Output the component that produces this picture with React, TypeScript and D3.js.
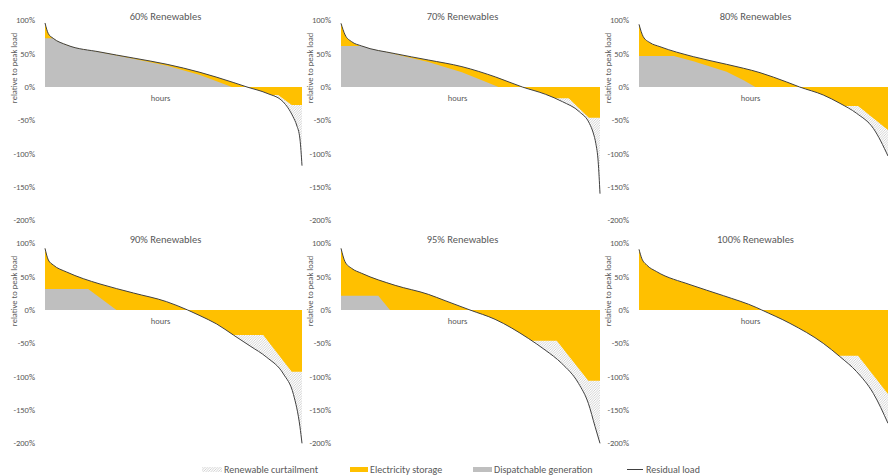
import React from "react";
import * as d3 from "d3";

type Pt = [number, number];

const titles = ["60% Renewables", "70% Renewables", "80% Renewables", "90% Renewables", "95% Renewables", "100% Renewables"];
const tickValues = [100, 50, 0, -50, -100, -150, -200];
const legendLabels = ["Renewable curtailment", "Electricity storage", "Dispatchable generation", "Residual load"];

// x = share of the year's hours (sorted), y = % of peak load
const residual60: Pt[] = [[0, 96], [0.013, 80], [0.032, 73], [0.085, 63], [0.214, 52.5], [0.343, 43.5], [0.475, 34], [0.603, 22], [0.735, 6.5], [0.786, 0], [0.864, -9.5], [0.926, -22], [0.965, -44.5], [0.979, -57], [0.992, -78], [1, -118]];
const dispatch60: Pt[] = [[0, 73], [0.032, 73], [0.085, 62.5], [0.214, 52], [0.343, 42.5], [0.475, 32], [0.603, 18], [0.727, 0]];
const storage60: Pt[] = [[0.78, -12], [0.907, -12], [0.96, -27], [1, -27]];

const residual70: Pt[] = [[0, 95.5], [0.016, 78], [0.041, 68], [0.08, 61.5], [0.209, 50], [0.337, 40.5], [0.467, 30.5], [0.597, 15], [0.7, 0], [0.79, -11], [0.855, -22], [0.92, -37], [0.959, -54.5], [0.974, -69], [0.984, -85], [0.993, -112], [1, -160]];
const dispatch70: Pt[] = [[0, 61.5], [0.08, 61.5], [0.209, 49], [0.337, 37.5], [0.467, 22], [0.544, 10], [0.608, 0]];
const storage70: Pt[] = [[0.69, -17], [0.879, -17], [0.957, -46], [1, -46]];

const residual80: Pt[] = [[0, 94], [0.017, 75.5], [0.044, 66.5], [0.084, 60.5], [0.218, 45.5], [0.352, 34], [0.486, 21.5], [0.593, 7.5], [0.645, 0], [0.74, -12], [0.807, -24.5], [0.874, -39.5], [0.941, -62], [1, -103.5]];
const dispatch80: Pt[] = [[0, 46.5], [0.14, 46.5], [0.218, 38.5], [0.352, 23], [0.42, 10], [0.467, 0]];
const storage80: Pt[] = [[0.63, -28.5], [0.88, -28.5], [1, -64.5]];

const residual90: Pt[] = [[0, 92.5], [0.013, 75], [0.032, 67.5], [0.084, 57], [0.149, 47], [0.214, 39], [0.344, 25.5], [0.473, 12.5], [0.555, 0], [0.603, -8.5], [0.668, -21], [0.733, -37.5], [0.798, -54], [0.863, -71], [0.928, -96], [0.967, -127], [0.992, -175], [1, -200]];
const dispatch90: Pt[] = [[0, 31.5], [0.168, 31.5], [0.278, 0]];
const storage90: Pt[] = [[0.54, -37.5], [0.849, -37.5], [0.96, -92.5], [1, -92.5]];

const residual95: Pt[] = [[0, 92.5], [0.0155, 72.5], [0.041, 62.5], [0.08, 55], [0.209, 37], [0.337, 23.5], [0.402, 14], [0.498, 0], [0.595, -14], [0.723, -42.5], [0.788, -60], [0.852, -80], [0.917, -110], [0.955, -140], [0.981, -175], [1, -200]];
const dispatch95: Pt[] = [[0, 21.5], [0.144, 21.5], [0.189, 0]];
const storage95: Pt[] = [[0.49, -46], [0.833, -46], [0.955, -106], [1, -106]];

const residual100: Pt[] = [[0, 91], [0.011, 77.5], [0.031, 67.5], [0.071, 57.5], [0.205, 38], [0.339, 21.5], [0.473, 3.5], [0.493, 0], [0.606, -20], [0.74, -50], [0.807, -70], [0.874, -92.5], [0.941, -125], [1, -170]];
const dispatch100: Pt[] = [];
const storage100: Pt[] = [[0.49, -68.5], [0.88, -68.5], [1, -126]];

const residuals = [residual60, residual70, residual80, residual90, residual95, residual100];
const dispatches = [dispatch60, dispatch70, dispatch80, dispatch90, dispatch95, dispatch100];
const storages = [storage60, storage70, storage80, storage90, storage95, storage100];

const W = 888;
const H = 475;
const ORANGE = "#FFC000";
const GRAY = "#BFBFBF";
const TEXT = "#595959";
const LINE = "#404040";
const FONT = "Carlito, Calibri, Lato, sans-serif";

const colLeft = [45, 341, 639];
const colWidth = [257, 259, 249];
const rowZero = [87, 310];

function Panel({ idx }: { idx: number }) {
  const col = idx % 3;
  const row = Math.floor(idx / 3);
  const left = colLeft[col];
  const width = colWidth[col];
  const z = rowZero[row];
  const x = d3.scaleLinear().domain([0, 1]).range([left, left + width]);
  const y = d3.scaleLinear().domain([-200, 100]).range([z + 133.33, z - 66.67]);

  const res = residuals[idx];
  const curve = d3.curveMonotoneX;
  const clipArea = d3.area<Pt>().x((d) => x(d[0])).y0(y(0)).y1((d) => y(d[1])).curve(curve);
  const resLine = d3.line<Pt>().x((d) => x(d[0])).y((d) => y(d[1])).curve(curve);
  const polyArea = d3.area<Pt>().x((d) => x(d[0])).y0(y(0)).y1((d) => y(d[1]));

  const clipId = `clip-${idx}`;
  const axisLabelX = left - 31;
  const axisLabelY = z - 19;

  return (
    <g>
      <defs>
        <clipPath id={clipId}>
          <path d={clipArea(res) || ""} />
        </clipPath>
      </defs>
      <text x={left + width / 2 - 8} y={z - 67} textAnchor="middle" fontSize={10.5} fill={TEXT} fontFamily={FONT}>
        {titles[idx]}
      </text>
      {tickValues.map((t) => (
        <text key={t} x={left - 10} y={y(t)} dy="0.35em" textAnchor="end" fontSize={8.5} fill={TEXT} fontFamily={FONT}>
          {`${t}%`}
        </text>
      ))}
      <text
        transform={`translate(${axisLabelX},${axisLabelY}) rotate(-90)`}
        textAnchor="middle"
        dy="0.35em"
        fontSize={8.5}
        fill={TEXT}
        fontFamily={FONT}
      >
        relative to peak load
      </text>
      <g clipPath={`url(#${clipId})`}>
        <rect x={left} y={y(110)} width={width} height={y(0) - y(110)} fill={ORANGE} />
        <rect x={left} y={y(0)} width={width} height={y(-220) - y(0)} fill="url(#hatch)" />
        {storages[idx].length > 0 && <path d={polyArea(storages[idx]) || ""} fill={ORANGE} />}
        {dispatches[idx].length > 0 && <path d={polyArea(dispatches[idx]) || ""} fill={GRAY} />}
      </g>
      <path d={resLine(res) || ""} fill="none" stroke={LINE} strokeWidth={1} />
      <text x={left + width / 2 - 13} y={z + 11} dy="0.35em" textAnchor="middle" fontSize={8.5} fill={TEXT} fontFamily={FONT}>
        hours
      </text>
    </g>
  );
}

export default function App() {
  const legendY = 469.5;
  return (
    <svg width={W} height={H} style={{ position: "absolute", left: 0, top: 0, background: "#fff" }}>
      <defs>
        <pattern id="hatch" patternUnits="userSpaceOnUse" width={2.5} height={2.5}>
          <rect width={2.5} height={2.5} fill="#fff" />
          <path d="M-0.625,0.625 L0.625,-0.625 M0,2.5 L2.5,0 M1.875,3.125 L3.125,1.875" stroke="#b4b4b4" strokeWidth={0.6} />
        </pattern>
      </defs>
      <rect width={W} height={H} fill="#fff" />
      {titles.map((_, i) => (
        <Panel key={i} idx={i} />
      ))}
      <g fontFamily={FONT} fontSize={10} fill={TEXT}>
        <rect x={202} y={467} width={20} height={5} fill="url(#hatch)" />
        <text x={224} y={legendY} dy="0.35em">{legendLabels[0]}</text>
        <rect x={350} y={467} width={18} height={5} fill={ORANGE} />
        <text x={370} y={legendY} dy="0.35em">{legendLabels[1]}</text>
        <rect x={473} y={467} width={19} height={5} fill={GRAY} />
        <text x={494} y={legendY} dy="0.35em">{legendLabels[2]}</text>
        <line x1={627} x2={643} y1={legendY} y2={legendY} stroke={LINE} strokeWidth={1} />
        <text x={646} y={legendY} dy="0.35em">{legendLabels[3]}</text>
      </g>
    </svg>
  );
}
